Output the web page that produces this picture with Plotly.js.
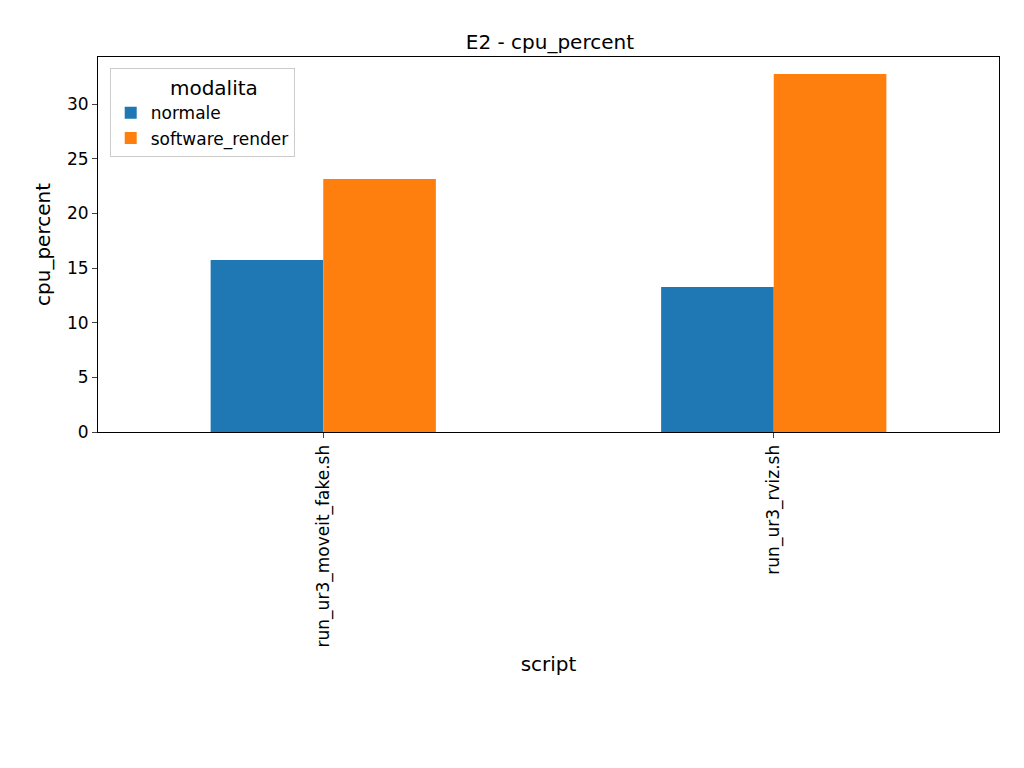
<!DOCTYPE html>
<html>
<head>
<meta charset="utf-8">
<script src="https://cdn.plot.ly/plotly-3.0.1.min.js"></script>
<style>body{margin:0;background:#fff}</style>
</head>
<body>
<div id="chart" style="width:1024px;height:768px"></div>
<script>
const scripts = ["run_ur3_moveit_fake.sh", "run_ur3_rviz.sh"];
const normale = [15.73, 13.27];
const softwareRender = [23.15, 32.75];

let traces = [
  { x: scripts, y: normale, type: 'bar', name: 'normale', marker: {color: '#1f77b4'} },
  { x: scripts, y: softwareRender, type: 'bar', name: 'software_render', marker: {color: '#ff7f0e'} }
];

let layout = {
  width: 1024, height: 768,
  margin: {l: 98, r: 25, t: 57, b: 336},
  font: {family: 'DejaVu Sans', size: 17, color: '#000'},
  title: {text: 'E2 - cpu_percent', font: {size: 20}, x: 0.537, y: 0.955, xanchor: 'center'},
  barmode: 'group', bargap: 0.5, bargroupgap: 0,
  plot_bgcolor: '#fff', paper_bgcolor: '#fff',
  xaxis: {
    title: {text: 'script', standoff: 10}, tickangle: -90, range: [-0.5, 1.5],
    showline: true, mirror: true, linecolor: '#000', ticks: 'outside', ticklen: 5
  },
  yaxis: {
    title: {text: 'cpu_percent', standoff: 10}, range: [0, 34.3], dtick: 5, showgrid: false, zeroline: false,
    showline: true, mirror: true, linecolor: '#000', ticks: 'outside', ticklen: 5
  },
  legend: {
    x: 0.013, y: 0.97, xanchor: 'left', yanchor: 'top',
    bordercolor: '#ccc', borderwidth: 1, bgcolor: 'rgba(255,255,255,0.8)',
    title: {text: '         modalita', side: 'top'}, font: {size: 17}, tracegroupgap: 6
  },
  showlegend: true
};

Plotly.newPlot('chart', traces, layout, {displayModeBar: false});
</script>
</body>
</html>
